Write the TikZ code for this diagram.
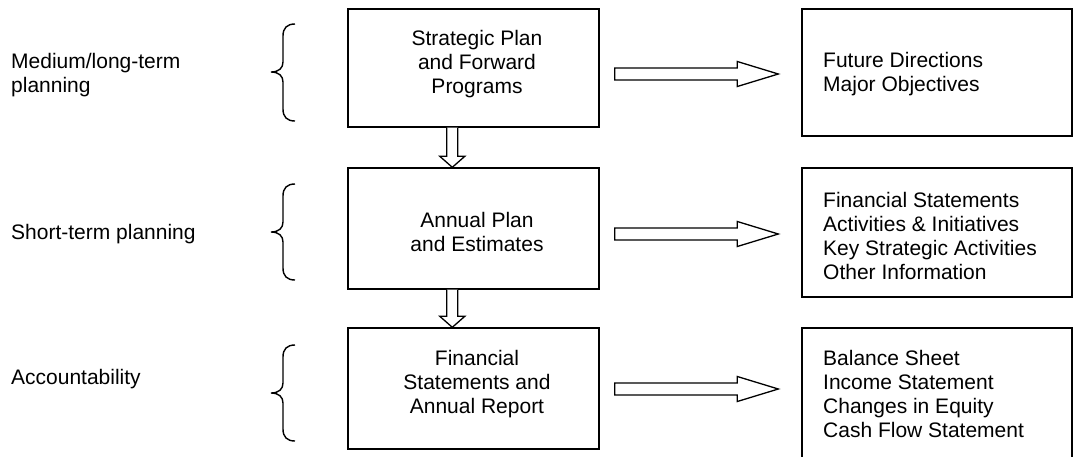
\documentclass[tikz,border=0pt]{standalone}
\usepackage{fontspec}
\setmainfont{Liberation Sans}
\usetikzlibrary{calc}
\newcommand\mybrace[3]{%
  \draw[bracestyle] (295,#1) .. controls (287,#1) and (283,#1+4) .. (283,#1+12)
    -- (283,#2-10) .. controls (283,#2-4) and (279,#2) .. (271,#2)
    .. controls (279,#2) and (283,#2+4) .. (283,#2+10)
    -- (283,#3-12) .. controls (283,#3-4) and (287,#3) .. (295,#3);}
\newcommand\rarrow[2]{%
  \draw[blockarrow] ($(#1)+(0,-6)$) -- ($(#2)+(-41,-6)$) -- ($(#2)+(-41,-12.5)$) -- (#2)
    -- ($(#2)+(-41,12.5)$) -- ($(#2)+(-41,6)$) -- ($(#1)+(0,6)$) -- cycle;}
\newcommand\darrow[2]{%
  \draw[blockarrow] ($(#1)+(-5.5,0)$) -- ($(#2)+(-5.5,-11)$) -- ($(#2)+(-12.5,-11)$) -- (#2)
    -- ($(#2)+(12.5,-11)$) -- ($(#2)+(5.5,-11)$) -- ($(#1)+(5.5,0)$);}
\begin{document}
\begin{tikzpicture}[x=1pt,y=-1pt,
  box/.style={draw, line width=1.4pt, inner sep=0pt, minimum width=251pt},
  rbox/.style={draw, line width=1.4pt, inner sep=0pt, minimum width=270pt},
  txt/.style={inner sep=0pt, font=\fontsize{21}{24}\selectfont},
  bracestyle/.style={line width=1.4pt},
  blockarrow/.style={line width=1.3pt, line join=miter, fill=white}]
\useasboundingbox (0,0) rectangle (1074,456);
\fill[white] (0,0) rectangle (1074,456);

% middle boxes
\node[box, minimum height=118pt] (b1) at (473.5,68) {};
\node[box, minimum height=121pt] (b2) at (473.5,228.5) {};
\node[box, minimum height=121pt] (b3) at (473.5,388.5) {};
% anchor=base is the baseline of the last line
\node[txt, align=center, anchor=base] (t1) at (477,93) {Strategic Plan\\and Forward\\Programs};
\node[txt, align=center, anchor=base] (t2) at (477,251) {Annual Plan\\and Estimates};
\node[txt, align=center, anchor=base] (t3) at (477,413) {Financial\\Statements and\\Annual Report};

% right boxes
\node[rbox, minimum height=127pt] (r1) at (937,72.5) {};
\node[rbox, minimum height=129pt] (r2) at (937,232.5) {};
\node[rbox, minimum height=130pt] (r3) at (937,393) {};
\node[txt, align=left, anchor=base west] (s1) at (823,91) {Future Directions\\Major Objectives};
\node[txt, align=left, anchor=base west] (s2) at (823,279) {Financial Statements\\Activities \& Initiatives\\Key Strategic Activities\\Other Information};
\node[txt, align=left, anchor=base west] (s3) at (823,437) {Balance Sheet\\Income Statement\\Changes in Equity\\Cash Flow Statement};

% left labels
\node[txt, align=left, anchor=base west] (l1) at (11,92) {Medium/long-term\\planning};
\node[txt, align=left, anchor=base west] (l2) at (11,239) {Short-term planning};
\node[txt, align=left, anchor=base west] (l3) at (11,384) {Accountability};

% braces
\mybrace{24}{72}{121}
\mybrace{184}{232}{280}
\mybrace{345}{393}{441}

% horizontal block arrows
\coordinate (h1s) at ($(b1.east)+(15,6)$);
\coordinate (h1e) at ($(r1.west)+(-23,1.5)$);
\coordinate (h2s) at ($(b2.east)+(15,5.5)$);
\coordinate (h2e) at ($(r2.west)+(-23,1.5)$);
\coordinate (h3s) at ($(b3.east)+(15,0.5)$);
\coordinate (h3e) at ($(r3.west)+(-23,-4)$);
\rarrow{h1s}{h1e}
\rarrow{h2s}{h2e}
\rarrow{h3s}{h3e}

% vertical block arrows
\coordinate (v1s) at ($(b1.south west)+(105,0)$);
\coordinate (v1e) at ($(b2.north west)+(105,0)$);
\coordinate (v2s) at ($(b2.south west)+(105,0)$);
\coordinate (v2e) at ($(b3.north west)+(105,0)$);
\darrow{v1s}{v1e}
\darrow{v2s}{v2e}
\end{tikzpicture}
\end{document}
